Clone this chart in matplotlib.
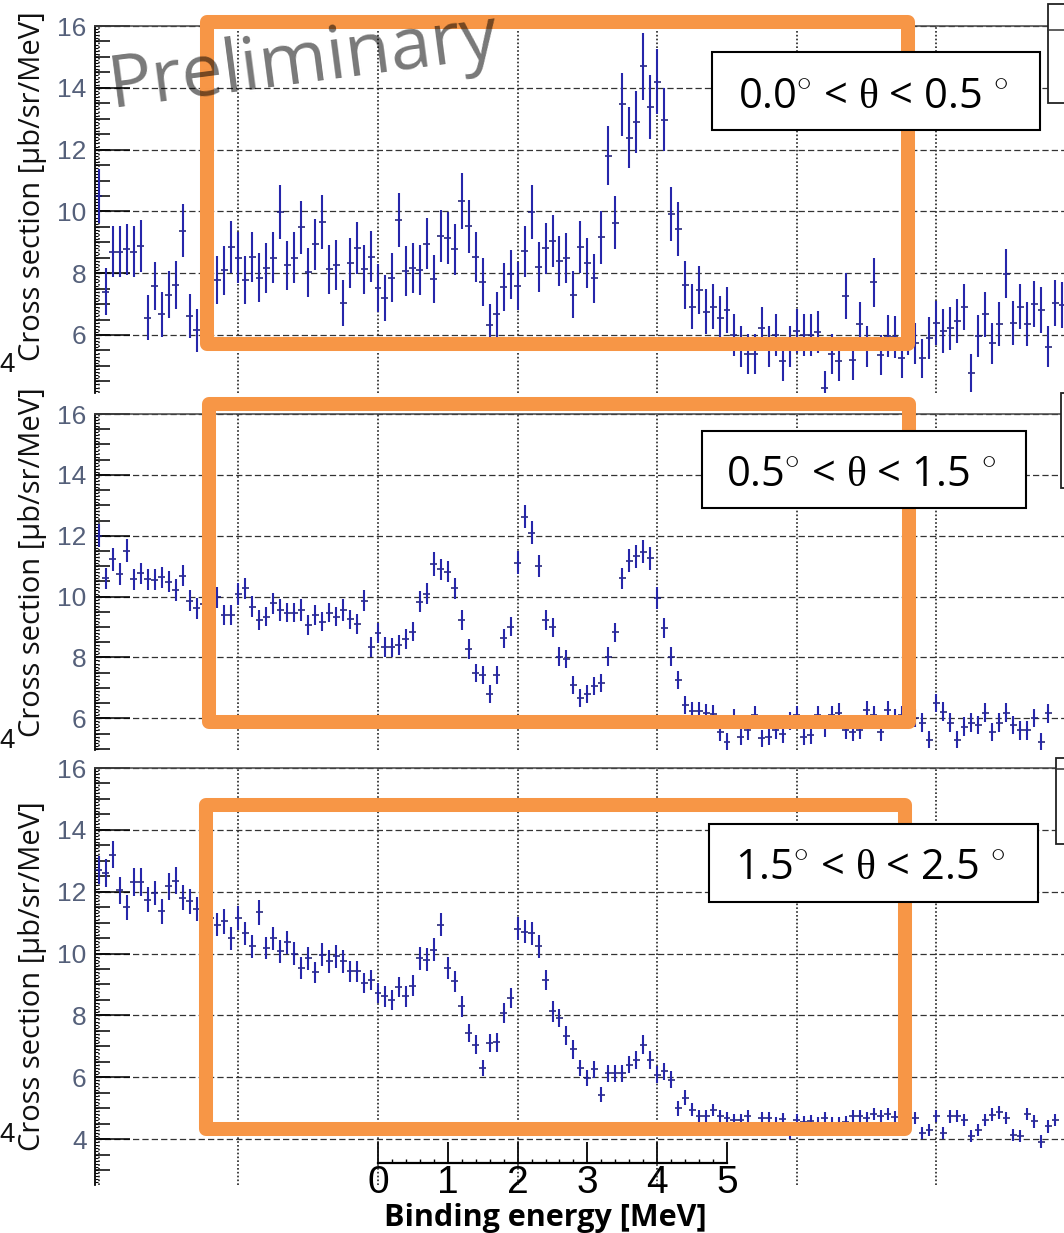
import matplotlib

matplotlib.use("Agg")
import matplotlib.pyplot as plt
import numpy as np
from matplotlib.patches import Rectangle
from matplotlib.ticker import MultipleLocator

plt.rcParams["font.family"] = ["Open Sans", "DejaVu Sans"]
plt.rcParams["mathtext.fontset"] = "custom"
plt.rcParams["mathtext.rm"] = "Liberation Serif"

W, H = 1064, 1233

# 0.1 MeV bins, centres from -4.0 MeV
energy = np.round(-4.0 + 0.1 * np.arange(140), 2)

# 0.0 < theta < 0.5 deg
xs_a = [10.5, 7.4, 8.7, 8.7, 8.77, 8.7, 8.87, 6.56, 7.58, 6.67,
        7.31, 7.61, 9.38, 6.61, 6.15, 6.5, 7.2, 7.77, 8.09, 8.85,
        8.5, 7.77, 8.52, 7.85, 8.17, 8.5, 9.98, 8.25, 8.5, 9.49,
        8.03, 8.93, 9.65, 8.12, 8.28, 7.04, 8.34, 8.82, 8.12, 8.53,
        7.53, 7.2, 7.85, 9.73, 8.07, 8.17, 8.1, 8.96, 7.8, 9.2,
        9.14, 8.77, 10.33, 9.52, 8.52, 7.71, 6.31, 6.67, 7.56, 7.96,
        7.58, 8.71, 9.98, 8.2, 8.81, 9.05, 8.4, 8.49, 7.3, 8.86,
        8.32, 7.84, 9.16, 11.8, 9.64, 13.46, 12.38, 12.89, 14.7, 13.38,
        14.2, 12.97, 9.91, 9.43, 7.62, 6.92, 7.46, 6.76, 6.92, 6.54,
        6.81, 6.0, 5.62, 5.38, 5.38, 6.22, 5.62, 6.0, 5.16, 5.62,
        6.13, 6.0, 6.0, 6.1, 4.27, 5.38, 5.16, 7.26, 5.19, 6.36,
        5.62, 7.7, 5.35, 5.97, 5.95, 5.24, 6.05, 5.73, 5.24, 5.89,
        6.4, 6.13, 6.22, 6.46, 6.9, 4.78, 5.97, 6.67, 5.73, 6.36,
        7.98, 6.4, 6.92, 6.35, 7.0, 6.81, 5.62, 7.03, 6.97]
err_a = [0.88, 0.76, 0.83, 0.83, 0.83, 0.83, 0.84, 0.72, 0.77, 0.73,
         0.76, 0.77, 0.86, 0.72, 0.7, 0.72, 0.75, 0.78, 0.8, 0.84,
         0.82, 0.78, 0.82, 0.79, 0.8, 0.82, 0.88, 0.8, 0.82, 0.86,
         0.8, 0.84, 0.87, 0.8, 0.81, 0.74, 0.81, 0.83, 0.8, 0.82,
         0.77, 0.75, 0.79, 0.87, 0.8, 0.8, 0.8, 0.84, 0.78, 0.85,
         0.85, 0.83, 0.9, 0.86, 0.82, 0.78, 0.7, 0.73, 0.77, 0.79,
         0.77, 0.83, 0.88, 0.8, 0.83, 0.84, 0.81, 0.82, 0.76, 0.84,
         0.81, 0.79, 0.85, 0.96, 0.87, 1.03, 0.99, 1.01, 1.08, 1.03,
         1.06, 1.01, 0.88, 0.86, 0.77, 0.74, 0.77, 0.73, 0.74, 0.72,
         0.73, 0.69, 0.67, 0.65, 0.65, 0.7, 0.67, 0.69, 0.64, 0.67,
         0.7, 0.69, 0.69, 0.69, 0.58, 0.65, 0.64, 0.75, 0.64, 0.71,
         0.67, 0.78, 0.65, 0.68, 0.68, 0.64, 0.69, 0.67, 0.64, 0.68,
         0.71, 0.7, 0.7, 0.71, 0.74, 0.61, 0.68, 0.73, 0.67, 0.71,
         0.79, 0.71, 0.74, 0.71, 0.74, 0.73, 0.67, 0.74, 0.74]

# 0.5 < theta < 1.5 deg
xs_b = [12.0, 10.6, 11.22, 10.74, 11.51, 10.57, 10.76, 10.57, 10.55, 10.63,
        10.49, 10.22, 10.69, 9.87, 9.61, 9.75, 9.9, 9.98, 9.4, 9.4,
        10.08, 10.27, 9.67, 9.23, 9.34, 9.78, 9.56, 9.47, 9.47, 9.56,
        9.07, 9.4, 9.18, 9.47, 9.34, 9.56, 9.25, 9.1, 9.87, 8.35,
        8.81, 8.35, 8.33, 8.41, 8.6, 8.85, 9.83, 10.09, 11.07, 10.9,
        10.82, 10.27, 9.23, 8.27, 7.5, 7.42, 6.8, 7.42, 8.63, 9.01,
        11.11, 12.63, 12.1, 11.0, 9.23, 8.99, 8.03, 7.94, 7.1, 6.66,
        6.8, 7.06, 7.17, 8.03, 8.82, 10.6, 11.18, 11.32, 11.48, 11.26,
        9.95, 8.96, 8.03, 7.26, 6.44, 6.25, 6.25, 6.16, 6.14, 5.56,
        5.23, 6.0, 5.4, 5.6, 6.1, 5.34, 5.4, 5.62, 5.5, 5.9,
        6.1, 5.4, 5.45, 6.1, 5.67, 6.1, 6.19, 5.62, 5.56, 5.62,
        6.27, 6.1, 5.56, 6.27, 6.0, 6.1, 6.38, 6.0, 5.86, 5.29,
        6.5, 6.22, 5.86, 5.29, 5.73, 5.86, 5.78, 6.19, 5.56, 5.86,
        6.19, 5.78, 5.6, 5.6, 6.0, 5.23, 6.16]
err_b = [0.38, 0.35, 0.38, 0.35, 0.38, 0.35, 0.35, 0.35, 0.35, 0.35,
         0.35, 0.35, 0.35, 0.35, 0.35, 0.35, 0.35, 0.35, 0.32, 0.32,
         0.35, 0.35, 0.35, 0.32, 0.32, 0.35, 0.35, 0.32, 0.32, 0.35,
         0.32, 0.32, 0.32, 0.32, 0.32, 0.35, 0.32, 0.32, 0.35, 0.32,
         0.32, 0.32, 0.32, 0.32, 0.32, 0.32, 0.35, 0.35, 0.38, 0.35,
         0.35, 0.35, 0.32, 0.32, 0.3, 0.3, 0.3, 0.3, 0.32, 0.32,
         0.38, 0.38, 0.38, 0.35, 0.32, 0.32, 0.32, 0.3, 0.3, 0.3,
         0.3, 0.3, 0.3, 0.32, 0.32, 0.35, 0.38, 0.38, 0.38, 0.38,
         0.35, 0.32, 0.32, 0.3, 0.3, 0.3, 0.3, 0.3, 0.3, 0.3,
         0.28, 0.3, 0.28, 0.3, 0.3, 0.28, 0.28, 0.3, 0.3, 0.3,
         0.3, 0.28, 0.28, 0.3, 0.3, 0.3, 0.3, 0.3, 0.3, 0.3,
         0.3, 0.3, 0.3, 0.3, 0.3, 0.3, 0.3, 0.3, 0.3, 0.28,
         0.3, 0.3, 0.3, 0.28, 0.3, 0.3, 0.3, 0.3, 0.3, 0.3,
         0.3, 0.3, 0.3, 0.3, 0.3, 0.28, 0.3]

# 1.5 < theta < 2.5 deg
xs_c = [12.7, 12.6, 13.2, 12.04, 11.5, 12.3, 12.3, 11.74, 11.96, 11.36,
        12.17, 12.36, 11.8, 11.69, 11.44, 11.2, 11.15, 10.93, 11.04, 10.5,
        11.15, 10.66, 10.23, 11.33, 10.18, 10.5, 10.07, 10.36, 9.99, 9.53,
        9.85, 9.39, 9.96, 9.75, 9.91, 9.75, 9.42, 9.42, 9.05, 9.15,
        8.72, 8.61, 8.49, 8.92, 8.61, 8.96, 9.85, 9.8, 10.12, 10.93,
        9.53, 9.1, 8.29, 7.43, 7.05, 6.3, 7.1, 7.13, 8.08, 8.56,
        10.8, 10.7, 10.65, 10.23, 9.15, 8.13, 7.91, 7.34, 6.9, 6.3,
        5.97, 6.26, 5.43, 6.13, 6.13, 6.13, 6.4, 6.56, 7.05, 6.56,
        6.08, 6.19, 5.92, 5.0, 5.33, 4.95, 4.73, 4.73, 4.93, 4.73,
        4.68, 4.6, 4.6, 4.73, 4.35, 4.68, 4.68, 4.5, 4.65, 4.2,
        4.6, 4.55, 4.57, 4.5, 4.68, 4.5, 4.5, 4.55, 4.73, 4.73,
        4.68, 4.82, 4.73, 4.82, 4.7, 4.6, 4.6, 4.68, 4.2, 4.3,
        4.75, 4.2, 4.73, 4.75, 4.62, 4.09, 4.3, 4.62, 4.79, 4.86,
        4.68, 4.14, 4.09, 4.82, 4.57, 3.92, 4.41, 4.62]
err_c = [0.45, 0.45, 0.45, 0.45, 0.4, 0.45, 0.45, 0.4, 0.4, 0.4,
         0.45, 0.45, 0.4, 0.4, 0.4, 0.4, 0.4, 0.37, 0.4, 0.37,
         0.4, 0.37, 0.37, 0.4, 0.37, 0.37, 0.37, 0.37, 0.37, 0.37,
         0.37, 0.33, 0.37, 0.37, 0.37, 0.37, 0.33, 0.33, 0.33, 0.33,
         0.33, 0.33, 0.33, 0.33, 0.33, 0.33, 0.37, 0.37, 0.37, 0.37,
         0.37, 0.33, 0.33, 0.3, 0.3, 0.27, 0.3, 0.3, 0.33, 0.33,
         0.37, 0.37, 0.37, 0.37, 0.33, 0.33, 0.3, 0.3, 0.3, 0.27,
         0.27, 0.27, 0.24, 0.27, 0.27, 0.27, 0.27, 0.3, 0.3, 0.3,
         0.27, 0.27, 0.27, 0.24, 0.24, 0.2, 0.2, 0.2, 0.2, 0.2,
         0.2, 0.2, 0.2, 0.2, 0.2, 0.2, 0.2, 0.2, 0.2, 0.2,
         0.2, 0.2, 0.2, 0.2, 0.2, 0.2, 0.2, 0.2, 0.2, 0.2,
         0.2, 0.2, 0.2, 0.2, 0.2, 0.2, 0.2, 0.2, 0.2, 0.2,
         0.2, 0.2, 0.2, 0.2, 0.2, 0.2, 0.2, 0.2, 0.2, 0.2,
         0.2, 0.2, 0.2, 0.2, 0.2, 0.2, 0.2, 0.2]

labels = ["0.0$^{\\circ}$ < $\\mathrm{\\theta}$ < 0.5 $^{\\circ}$",
          "0.5$^{\\circ}$ < $\\mathrm{\\theta}$ < 1.5 $^{\\circ}$",
          "1.5$^{\\circ}$ < $\\mathrm{\\theta}$ < 2.5 $^{\\circ}$"]

ylabel = "Cross section [μb/sr/MeV]"
xlabel = "Binding energy [MeV]"

PX0, PX_MEV = 378, 69.8        # pixel of 0 MeV, pixels per MeV
LEFT, RIGHT = 95, 1100
TICK_COLOR = "#55607a"
ORANGE = "#F79646"


def _rect(left, top, right, bottom):
    return [left / W, 1 - bottom / H, (right - left) / W, (bottom - top) / H]


def _panel(fig, top, bottom, px_unit, ys, errs):
    ax = fig.add_axes(_rect(LEFT, top, RIGHT, bottom))
    ax.patch.set_visible(False)
    ax.set_xlim((LEFT - PX0) / PX_MEV, (RIGHT - PX0) / PX_MEV)
    ax.set_ylim(16 - (bottom - top) / px_unit, 16)

    x = energy[:len(ys)]
    cont = ax.errorbar(x, ys, xerr=0.05, yerr=errs, fmt="none", capsize=0, zorder=3)
    hbar, vbar = cont[2]
    hbar.set_color("#16166e")
    hbar.set_linewidth(1.1)
    vbar.set_color("#2626aa")
    vbar.set_linewidth(1.5)

    for s in ("right", "bottom"):
        ax.spines[s].set_visible(False)
    ax.spines["left"].set_color("#111111")
    ax.spines["left"].set_linewidth(1.1)
    ax.spines["top"].set_color("#444444")
    ax.spines["top"].set_linewidth(1.1)

    ax.xaxis.set_major_locator(MultipleLocator(2))
    ax.tick_params(axis="x", length=0, labelbottom=False)
    ax.grid(axis="x", linestyle=(0, (1, 1.3)), linewidth=1.2, color="#222222")

    ax.yaxis.set_major_locator(MultipleLocator(2))
    ax.yaxis.set_minor_locator(MultipleLocator(0.1))
    ax.tick_params(axis="y", which="major", direction="in", length=25, width=1.1,
                   labelsize=19, labelcolor=TICK_COLOR, pad=6,
                   labelfontfamily="Liberation Sans")
    ax.tick_params(axis="y", which="minor", direction="in", length=2.2, width=0.8)
    ax.grid(axis="y", which="major", linestyle=(0, (5, 2.5)), linewidth=0.9,
            color="#333333")

    # half-unit ticks of medium length
    sec = ax.secondary_yaxis("left")
    sec.yaxis.set_major_locator(MultipleLocator(0.5))
    sec.tick_params(direction="in", length=11, width=1.1, labelleft=False)
    sec.spines["left"].set_linewidth(1.1)
    return ax


fig = plt.figure(figsize=(W / 100, H / 100), dpi=100)

_panel(fig, 26, 393, 30.9, xs_a, err_a)
_panel(fig, 414, 750, 30.43, xs_b, err_b)
ax3 = _panel(fig, 768, 1185, 30.92, xs_c, err_c)
ax3.set_zorder(1)

# short energy axis under the last panel
axe = fig.add_axes(_rect(PX0, 1120, PX0 + 5 * PX_MEV, 1163))
axe.set_zorder(0)
axe.patch.set_visible(False)
axe.set_xlim(0, 5)
axe.set_yticks([])
for s in ("left", "right", "top"):
    axe.spines[s].set_visible(False)
axe.spines["bottom"].set_linewidth(1.6)
axe.xaxis.set_major_locator(MultipleLocator(1))
axe.xaxis.set_minor_locator(MultipleLocator(0.2))
axe.tick_params(axis="x", which="major", direction="in", length=15, width=1.3,
                pad=1.5, labelsize=28,
                labelfontfamily=["Liberation Sans Narrow", "Liberation Sans"])
axe.tick_params(axis="x", which="minor", direction="in", length=3, width=1)

# annotations in pixel coordinates
ov = fig.add_axes([0, 0, 1, 1])
ov.set_zorder(5)
ov.set_xlim(0, W)
ov.set_ylim(H, 0)
ov.axis("off")

# right-hand boxes cut by the page edge
for (bx, btop, bbot, sep) in [(1048, 4, 103, 30), (1061, 393, 488, None),
                             (1056, 758, 844, 769)]:
    ov.add_patch(Rectangle((bx, btop), 80, bbot - btop, fc="white",
                           ec="#222222", lw=1.3, clip_on=False))
    if sep is not None:
        ov.plot([bx, W], [sep, sep], color="#333333", lw=1.1)

boxes = [(207, 22, 908, 344), (209, 404, 909, 722), (206, 805, 905, 1129)]
for (l, t, r, b) in boxes:
    ov.add_patch(Rectangle((l, t), r - l, b - t, fill=False, ec=ORANGE,
                           lw=10.1, joinstyle="round", zorder=2))

tags = [(712, 52, 1040, 130, 108), (702, 431, 1026, 508, 486),
        (709, 824, 1038, 902, 879)]
for (l, t, r, b, base), lab in zip(tags, labels):
    ov.add_patch(Rectangle((l, t), r - l, b - t, fc="white", ec="black",
                           lw=1.5, zorder=3))
    ov.text((l + r) / 2 - 3, base, lab, ha="center", va="baseline", fontsize=30,
            color="black", zorder=4)

for yc in (186, 562, 976):
    ov.text(33, yc, ylabel, rotation=90, ha="center", va="center",
            fontsize=21, color="#111111")

for yc in (365, 741, 1135):
    ov.text(-1, yc, "4", ha="left", va="center", fontsize=20,
            family="Liberation Sans", color="#111111")

ov.text(545, 1226, xlabel, ha="center", va="baseline", fontsize=22,
        fontweight="bold", color="black")

ov.text(111, 107, "Preliminary", rotation=7.5, rotation_mode="anchor",
        ha="left", va="baseline", fontsize=53, color="black", alpha=0.53,
        zorder=6)

fig.savefig("out.png", dpi=100)
